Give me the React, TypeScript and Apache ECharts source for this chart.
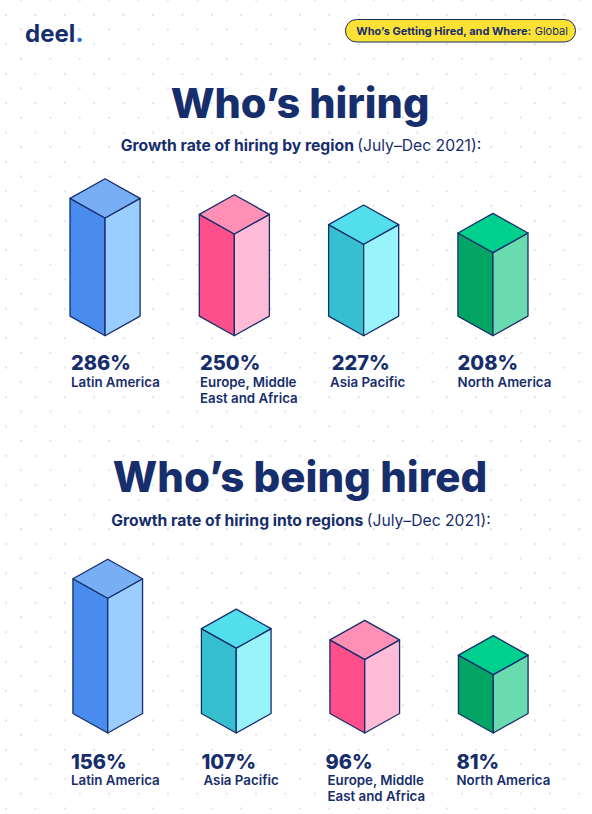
import React, { useEffect, useRef } from "react";
import * as echarts from "echarts";

const NAVY = "#172E6C";
const FONT = "Inter";

const hiringCategories = ["Latin America", "Europe, Middle\nEast and Africa", "Asia Pacific", "North America"];
const hiringValues = [286, 250, 227, 208];
const hiringValueShift = [-34, -34.3, -32, -35.4];
const hiringNameShift = [-34, -34.3, -33.6, -35.4];

const hiredCategories = ["Latin America", "Asia Pacific", "Europe, Middle\nEast and Africa", "North America"];
const hiredValues = [156, 107, 96, 81];
const hiredValueShift = [-36.75, -34.75, -39.25, -36.75];
const hiredNameShift = [-36.75, -32.75, -37.25, -36.75];

const hiringPalette = ["blue", "pink", "teal", "green"];
const hiredPalette = ["blue", "teal", "pink", "green"];

const palettes: Record<string, { left: string; right: string; top: string }> = {
  blue: { left: "#4A8CEE", right: "#9BCDFE", top: "#78AEF4" },
  pink: { left: "#FF4F8A", right: "#FFBCD6", top: "#FF8FB5" },
  teal: { left: "#35BFCF", right: "#98F3FB", top: "#52DFEB" },
  green: { left: "#03A565", right: "#6ADBAF", top: "#00D08D" },
};

function isoBars(
  xAxisIndex: number,
  values: number[],
  cats: string[],
  pal: string[],
  valueShift: number[],
  nameShift: number[],
  baseValue: number,
  labelDrop: number
) {
  return {
    type: "custom",
    xAxisIndex,
    yAxisIndex: xAxisIndex,
    clip: false,
    data: values.map((v, i) => [i, v]),
    renderItem: (params: any, api: any) => {
      const i = api.value(0);
      const top = api.coord([i, api.value(1)]);
      const base = api.coord([i, baseValue]);
      const hw = api.size([1, 0])[0] * 0.271;
      const rise = hw * 0.56;
      const [cx, ty] = top;
      const by = base[1];
      const c = palettes[pal[i]];
      const line = { stroke: NAVY, lineWidth: 1.3, lineJoin: "round" };
      const poly = (points: number[][], fill: string) => ({
        type: "polygon",
        shape: { points },
        style: { fill, ...line },
      });
      return {
        type: "group",
        children: [
          poly([[cx - hw, ty - rise], [cx, ty], [cx, by], [cx - hw, by - rise]], c.left),
          poly([[cx + hw, ty - rise], [cx, ty], [cx, by], [cx + hw, by - rise]], c.right),
          poly([[cx, ty - 2 * rise], [cx + hw, ty - rise], [cx, ty], [cx - hw, ty - rise]], c.top),
          {
            type: "text",
            x: cx + valueShift[i],
            y: by + 27.5 + labelDrop,
            style: { text: values[i] + "%", font: `800 20px ${FONT}`, fill: NAVY, lineHeight: 16, verticalAlign: "middle" },
          },
          {
            type: "text",
            x: cx + nameShift[i],
            y: by + 38 + labelDrop,
            style: { text: cats[i], font: `600 13.3px ${FONT}`, fill: NAVY, lineHeight: 16, verticalAlign: "top" },
          },
        ],
      };
    },
  };
}

const axisOff = { show: false };

export default function App() {
  const ref = useRef<HTMLDivElement>(null);
  useEffect(() => {
    const chart = echarts.init(ref.current!, undefined, { renderer: "svg" });
    const centerText = (y: number, rich: any, text: string) => ({
      type: "text",
      x: 301,
      y,
      style: { text, rich, fill: NAVY, align: "center", verticalAlign: "middle" },
    });
    const sub = {
      b: { font: `700 15.7px ${FONT}`, fill: NAVY, color: NAVY },
      r: { font: `400 15.7px ${FONT}`, fill: NAVY, color: NAVY },
    };
    chart.setOption({
      animation: false,
      backgroundColor: "transparent",
      grid: [
        { left: 40.4, width: 517.2, top: 218, height: 117.7 },
        { left: 43.5, width: 514, top: 598.3, height: 134.7 },
      ],
      xAxis: [
        { type: "category", gridIndex: 0, data: hiringCategories, ...axisOff },
        { type: "category", gridIndex: 1, data: hiredCategories, ...axisOff },
      ],
      yAxis: [
        { type: "value", gridIndex: 0, min: 21, max: 286, ...axisOff },
        { type: "value", gridIndex: 1, min: 23.7, max: 156, ...axisOff },
      ],
      series: [
        isoBars(0, hiringValues, hiringCategories, hiringPalette, hiringValueShift, hiringNameShift, 21, 0),
        isoBars(1, hiredValues, hiredCategories, hiredPalette, hiredValueShift, hiredNameShift, 23.7, 1),
      ],
      graphic: [
        {
          type: "text",
          x: 25,
          y: 33,
          style: {
            text: "{a|deel}{d|.}",
            verticalAlign: "middle",
            rich: {
              a: { font: `700 24px ${FONT}`, fill: NAVY, color: NAVY },
              d: { font: `800 24px ${FONT}`, fill: "#2F6BF0", color: "#2F6BF0" },
            },
          },
        },
        {
          type: "rect",
          shape: { x: 345.5, y: 19.5, width: 230, height: 22.5, r: 11 },
          style: { fill: "#FBE134", stroke: NAVY, lineWidth: 1 },
        },
        {
          type: "text",
          x: 462,
          y: 31,
          style: {
            text: "{b|Who’s Getting Hired, and Where:} {r|Global}",
            align: "center",
            verticalAlign: "middle",
            rich: {
              b: { font: `700 11px ${FONT}`, fill: NAVY, color: NAVY },
              r: { font: `400 11px ${FONT}`, fill: NAVY, color: NAVY },
            },
          },
        },
        {
          type: "text", x: 300, y: 103,
          style: { text: "Who’s hiring", font: `800 41.4px ${FONT}`, fill: NAVY, align: "center", verticalAlign: "middle" },
        },
        centerText(145, sub, "{b|Growth rate of hiring by region} {r|(July–Dec 2021):}"),
        {
          type: "text", x: 300, y: 476,
          style: { text: "Who’s being hired", font: `800 42px ${FONT}`, fill: NAVY, align: "center", verticalAlign: "middle" },
        },
        centerText(520, sub, "{b|Growth rate of hiring into regions} {r|(July–Dec 2021):}"),
      ],
    });
    return () => chart.dispose();
  }, []);
  const dot = "radial-gradient(circle at center, #DDE5EC 0, #DDE5EC 1px, transparent 1.4px)";
  return (
    <div
      ref={ref}
      style={{
        position: "fixed",
        left: 0,
        top: 0,
        width: 592,
        height: 814,
        backgroundColor: "#fff",
        backgroundImage: `${dot}, ${dot}`,
        backgroundSize: "29.4px 29.4px",
        backgroundPosition: "6.3px -14.7px, -8.7px 0.3px",
      }}
    />
  );
}
